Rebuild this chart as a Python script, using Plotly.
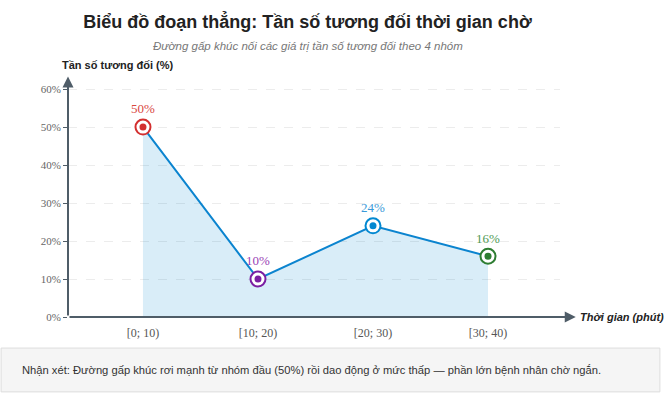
import plotly.graph_objects as go

# Dữ liệu
nhom = ["[0; 10)", "[10; 20)", "[20; 30)", "[30; 40)"]
tan_so = [50, 10, 24, 16]
mau_diem = ["#d32f2f", "#7b1fa2", "#0288d1", "#2e7d32"]
mau_nhan = ["#d9473f", "#9a3fb5", "#3a9ad9", "#4f9a55"]
y_ticks = [0, 10, 20, 30, 40, 50, 60]
y_labels = [f"{v}%" for v in y_ticks]

x_pos = list(range(len(nhom)))
axis_col = "#4f5d68"

fig = go.Figure()

# vùng tô + đường gấp khúc
fig.add_trace(go.Scatter(
    x=x_pos, y=tan_so, mode="lines",
    line=dict(color="#0b84cf", width=2),
    fill="tozeroy", fillcolor="rgba(2,136,209,0.15)",
    hoverinfo="skip", showlegend=False))

# vòng tròn ngoài + nhãn
fig.add_trace(go.Scatter(
    x=x_pos, y=tan_so, mode="markers+text",
    marker=dict(size=15, color="white", line=dict(color=mau_diem, width=2)),
    text=[f"{v}%" for v in tan_so], textposition="top center",
    textfont=dict(family="Liberation Serif", size=13, color=mau_nhan),
    showlegend=False))

# chấm trong
fig.add_trace(go.Scatter(
    x=x_pos, y=tan_so, mode="markers",
    marker=dict(size=7, color=mau_diem),
    showlegend=False))

fig.update_layout(
    width=666, height=400,
    margin=dict(l=68, r=106, t=80, b=83),
    paper_bgcolor="white", plot_bgcolor="white",
    font=dict(family="Liberation Sans", color="#333"),
    title=dict(
        text="<b>Biểu đồ đoạn thẳng: Tần số tương đối thời gian chờ</b>",
        x=0.4617, xref="container", xanchor="center",
        y=0.945, yanchor="middle",
        font=dict(size=18, color="#222")),
    xaxis=dict(
        range=[-0.652, 3.626], tickvals=x_pos, ticktext=nhom,
        showgrid=False, zeroline=False, showline=False,
        ticks="outside", ticklen=5, tickcolor="rgba(0,0,0,0)",
        tickfont=dict(family="Liberation Serif", size=12, color="#555")),
    yaxis=dict(
        range=[0, 62.4], tickvals=y_ticks, ticktext=y_labels,
        showgrid=True, gridcolor="#ececec", griddash="dash", gridwidth=1,
        zeroline=False, showline=False,
        ticks="outside", ticklen=4, tickcolor=axis_col,
        tickfont=dict(family="Liberation Serif", size=11, color="#666")),
)

# phụ đề
fig.add_annotation(x=(307.5 - 68) / 492, y=1.1435, xref="paper", yref="paper",
                   xanchor="center", yanchor="middle", showarrow=False,
                   text="<i>Đường gấp khúc nối các giá trị tần số tương đối theo 4 nhóm</i>",
                   font=dict(size=11.5, color="#777"))

# trục có mũi tên
fig.add_annotation(x=1.032, y=0, xref="x domain", yref="y",
                   ax=0, ay=0, axref="x domain", ayref="y",
                   showarrow=True, arrowhead=2, arrowsize=1.1, arrowwidth=2,
                   arrowcolor=axis_col, text="")
fig.add_annotation(x=0, y=1.015, xref="x domain", yref="y domain",
                   ax=0, ay=0, axref="x domain", ayref="y domain",
                   showarrow=True, arrowhead=2, arrowsize=1.1, arrowwidth=2,
                   arrowcolor=axis_col, text="")

fig.add_annotation(x=0, y=1.0633, xref="x domain", yref="y domain",
                   xshift=-8, xanchor="left", yanchor="middle",
                   showarrow=False, text="<b>Tần số tương đối (%)</b>",
                   font=dict(size=11, color="#222"))
fig.add_annotation(x=1.0, y=0, xref="x domain", yref="y",
                   xshift=18, xanchor="left", yanchor="middle",
                   showarrow=False, text="<b><i>Thời gian (phút)</i></b>",
                   font=dict(size=11, color="#222"))

# hộp nhận xét
fig.add_shape(type="rect", xref="paper", yref="paper",
              x0=-0.136, x1=1.203, y0=-0.131, y1=-0.316,
              fillcolor="#f5f5f5", line=dict(color="#dddddd", width=1),
              layer="below")
fig.add_annotation(x=-0.0976, y=-0.224, xref="paper", yref="paper",
                   xanchor="left", yanchor="middle", showarrow=False,
                   text="Nhận xét: Đường gấp khúc rơi mạnh từ nhóm đầu (50%) rồi dao động ở mức thấp — phần lớn bệnh nhân chờ ngắn.",
                   font=dict(size=11.2, color="#333"))

fig.write_html("out.html", config={"displayModeBar": False},
               post_script="document.body.style.margin='0';")
